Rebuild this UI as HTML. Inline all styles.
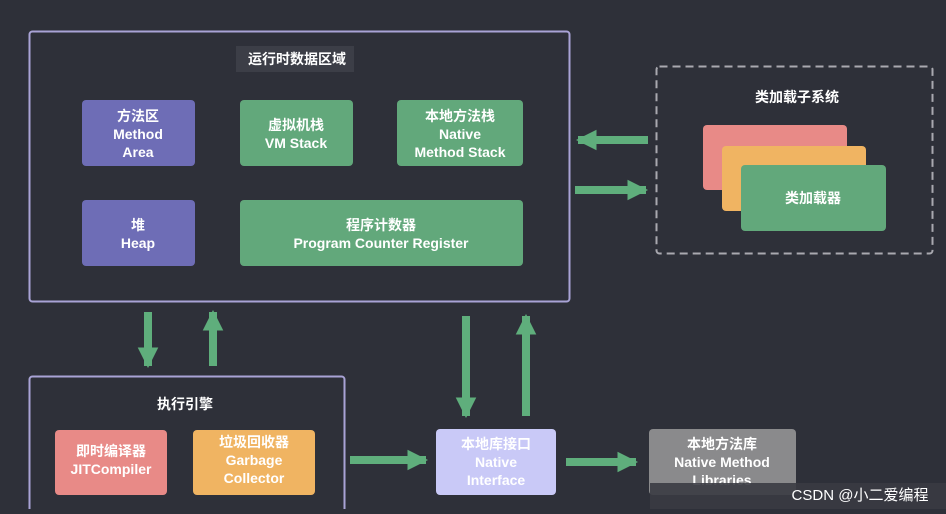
<!DOCTYPE html>
<html><head><meta charset="utf-8"><style>
body{margin:0;background:#2e3039;}
text{font-family:"Liberation Sans","Noto Sans CJK SC",sans-serif;font-weight:bold;fill:#fff;text-anchor:middle;font-size:14px}
</style></head><body>
<svg width="946" height="509" viewBox="0 0 946 509">
<rect width="946" height="509" fill="#2e3039"/>
<defs><marker id="a" viewBox="0 0 10 10" refX="9" refY="5" markerWidth="2.6" markerHeight="2.6" orient="auto" markerUnits="strokeWidth"><path d="M0,0L10,5L0,10z" fill="#5fae7c"/></marker></defs>
<rect x="29.5" y="31.5" width="540" height="270" rx="3" fill="none" stroke="#a9a3d6" stroke-width="2"/>
<rect x="236" y="46" width="118" height="26" fill="#3c3e47"/>
<text x="297" y="64">运行时数据区域</text>
<g>
<rect x="82" y="100" width="113" height="66" rx="4" fill="#6e6db6"/>
<text x="138" y="121">方法区</text><text x="138" y="139">Method</text><text x="138" y="157">Area</text>
<rect x="240" y="100" width="113" height="66" rx="4" fill="#62a87b"/>
<text x="296" y="130">虚拟机栈</text><text x="296" y="148">VM Stack</text>
<rect x="397" y="100" width="126" height="66" rx="4" fill="#62a87b"/>
<text x="460" y="121">本地方法栈</text><text x="460" y="139">Native</text><text x="460" y="157">Method Stack</text>
<rect x="82" y="200" width="113" height="66" rx="4" fill="#6e6db6"/>
<text x="138" y="230">堆</text><text x="138" y="248">Heap</text>
<rect x="240" y="200" width="283" height="66" rx="4" fill="#62a87b"/>
<text x="381" y="230">程序计数器</text><text x="381" y="248">Program Counter Register</text>
</g>
<rect x="656.5" y="66.5" width="276" height="187" rx="3" fill="none" stroke="#a9a9b0" stroke-width="2" stroke-dasharray="8,5"/>
<text x="797" y="102">类加载子系统</text>
<rect x="703" y="125" width="144" height="65" rx="4" fill="#e88a87"/>
<rect x="722" y="146" width="144" height="65" rx="4" fill="#f0b462"/>
<rect x="741" y="165" width="145" height="66" rx="4" fill="#62a87b"/>
<text x="813" y="203">类加载器</text>
<g stroke="#5fae7c" stroke-width="8" fill="none" marker-end="url(#a)">
<line x1="648" y1="140" x2="578" y2="140"/>
<line x1="575" y1="190" x2="646" y2="190"/>
<line x1="148" y1="312" x2="148" y2="366"/>
<line x1="213" y1="366" x2="213" y2="312"/>
<line x1="466" y1="316" x2="466" y2="416"/>
<line x1="526" y1="416" x2="526" y2="316"/>
<line x1="350" y1="460" x2="426" y2="460"/>
<line x1="566" y1="462" x2="636" y2="462"/>
</g>
<rect x="29.5" y="376.5" width="315" height="140" rx="3" fill="none" stroke="#a9a3d6" stroke-width="2"/>
<text x="185" y="409">执行引擎</text>
<rect x="55" y="430" width="112" height="65" rx="4" fill="#e88a87"/>
<text x="111" y="456">即时编译器</text><text x="111" y="474">JITCompiler</text>
<rect x="193" y="430" width="122" height="65" rx="4" fill="#f0b462"/>
<text x="254" y="447">垃圾回收器</text><text x="254" y="465">Garbage</text><text x="254" y="483">Collector</text>
<rect x="436" y="429" width="120" height="66" rx="4" fill="#c9c9f7"/>
<text x="496" y="449">本地库接口</text><text x="496" y="467">Native</text><text x="496" y="485">Interface</text>
<rect x="649" y="429" width="147" height="66" rx="4" fill="#8a8a8c"/>
<text x="722" y="449">本地方法库</text><text x="722" y="467">Native Method</text><text x="722" y="485">Libraries</text>
<rect x="650" y="483" width="296" height="26" fill="#3a3b42" opacity="0.9"/>
<text x="860" y="500" style="font-weight:normal;font-size:15px;fill:#fff">CSDN @小二爱编程</text>
</svg>
</body></html>
